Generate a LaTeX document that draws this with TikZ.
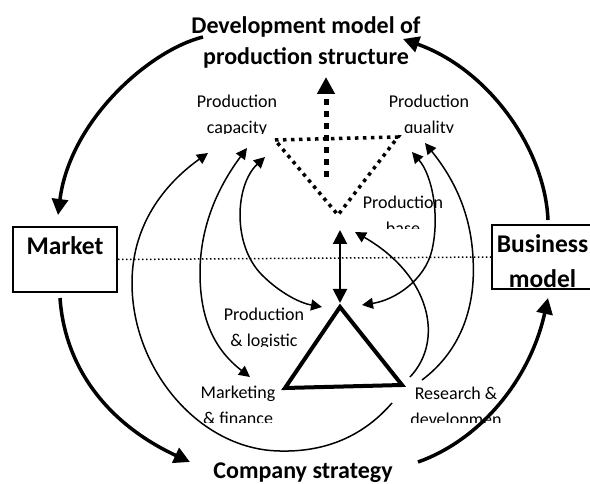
\documentclass[tikz,border=0pt]{standalone}
\usepackage{fontspec}
\setmainfont{Carlito}
\usetikzlibrary{arrows.meta}

\begin{document}
\begin{tikzpicture}[x=1pt,y=-1pt,
  >={Triangle[length=11pt,width=11pt]},
  lbl/.style={font=\fontsize{18}{26}\selectfont,inner sep=0pt,align=center},
  ttl/.style={font=\fontsize{24}{31}\selectfont\bfseries,inner sep=0pt,align=center},
  boxlbl/.style={font=\fontsize{25.5}{35}\selectfont\bfseries,inner sep=0pt,align=center},
  box/.style={draw,line width=2pt,inner sep=0pt},
  thin/.style={line width=1.5pt},
  bigarr/.style={line width=3.5pt,-{Triangle[length=16pt,width=16pt]}},
  dotline/.style={line width=3.5pt,dash pattern=on 3.5pt off 4.5pt},
  fineline/.style={line width=1.5pt,dash pattern=on 1.5pt off 2.5pt}]
\useasboundingbox (0,0) rectangle (590,484);

% titles
\node[ttl] (devmodel) at (306,42) {Development model of\\production structure};
\node[ttl,anchor=base] (strategy) at (303,478) {Company strategy};

% boxes
\node[box,minimum width=104pt,minimum height=65pt] (market) at (65,259.5) {};
\node[boxlbl,anchor=base] (marketlbl) at (65,255) {Market};
\node[boxlbl] (businesslbl) at (542.5,261) {Business\\model};
\node[box,minimum width=108pt,minimum height=64pt] (business) at (546,257) {};
\draw[fineline] (market.east) -- (business.west);

% labels round the triangles
\begin{scope}
  \clip (180,85) rectangle (300,134);
  \node[lbl] (capacity) at (237,115.5) {Production\\capacity};
\end{scope}
\begin{scope}
  \clip (370,85) rectangle (490,133);
  \node[lbl] (quality) at (429,115.5) {Production\\quality};
\end{scope}
\begin{scope}
  \clip (350,185) rectangle (460,229);
  \node[lbl] (base) at (403,215.75) {Production\\base};
\end{scope}
\begin{scope}
  \clip (210,295) rectangle (320,347);
  \node[lbl] (logistic) at (264,328.5) {Production\\\& logistic};
\end{scope}
\begin{scope}
  \clip (190,375) rectangle (290,422);
  \node[lbl] (finance) at (238,405.75) {Marketing\\\& finance};
\end{scope}
\begin{scope}
  \clip (400,375) rectangle (520,422);
  \node[lbl] (research) at (456,407.5) {Research \&\\developmen};
\end{scope}

% dotted triangle and upward arrow
\coordinate (topL) at (275,140);
\coordinate (topR) at (398,137);
\coordinate (topB) at (338,215);
\draw[dotline] (topL) -- (topR) -- (topB) -- cycle;
\coordinate (upS) at (326,177);
\coordinate (upE) at (326,77);
\draw[line width=5pt,dash pattern=on 6pt off 6pt,-{Triangle[length=17pt,width=17pt]}] (upS) -- (upE);

% solid triangle
\coordinate (apex) at (340,307);
\coordinate (botL) at (285,388);
\coordinate (botR) at (402,385);
\draw[line width=4pt] (apex) -- (botL) -- (botR) -- cycle;

% outer loop
\coordinate (devL) at (203,37);
\coordinate (devR) at (403,39);
\coordinate (mktN) at (58,215);
\coordinate (mktS) at (60,298);
\coordinate (busN) at (548,220);
\coordinate (busS) at (548,298);
\coordinate (strL) at (190,462);
\coordinate (strR) at (418,462);
\draw[bigarr] (devL) .. controls (150,50) and (70,120) .. (mktN);
\draw[bigarr] (busN) .. controls (545,150) and (490,70) .. (devR);
\draw[bigarr] (mktS) .. controls (65,370) and (110,425) .. (strL);
\draw[bigarr] (strR) .. controls (480,440) and (530,380) .. (busS);

% inner links
\coordinate (capA) at (208,153);
\coordinate (capB) at (247,148);
\coordinate (capC) at (265,157);
\coordinate (qualA) at (412,152);
\coordinate (qualB) at (425,143);
\coordinate (mktg) at (250,377);
\coordinate (logL) at (322,307);
\coordinate (logR) at (362,305);
\coordinate (rdA) at (392,403);
\coordinate (rdB) at (410,377);
\coordinate (rdC) at (422,380);
\coordinate (baseA) at (355,232);
\coordinate (baseT) at (340,230);
\coordinate (logT) at (340,303);

\draw[thin,->] (rdA) .. controls (360,440) and (320,452) .. (280,451)
  .. controls (200,450) and (132,370) .. (132,283)
  .. controls (132,220) and (170,180) .. (capA);
\draw[thin,<->] (capB) .. controls (212,195) and (200,235) .. (200,273)
  .. controls (200,320) and (215,350) .. (mktg);
\draw[thin,<->] (capC) .. controls (235,185) and (232,245) .. (262,275)
  .. controls (280,293) and (300,303) .. (logL);
\draw[thin,<->] (qualA) .. controls (432,175) and (440,215) .. (432,250)
  .. controls (425,280) and (395,300) .. (logR);
\draw[thin,->] (rdB) .. controls (445,340) and (430,275) .. (baseA);
\draw[thin,->] (rdC) .. controls (462,350) and (476,305) .. (473,258)
  .. controls (471,215) and (455,180) .. (qualB);
\draw[line width=2pt,{Triangle[length=14pt,width=14pt]}-{Triangle[length=14pt,width=14pt]}] (baseT) -- (logT);
\end{tikzpicture}
\end{document}
